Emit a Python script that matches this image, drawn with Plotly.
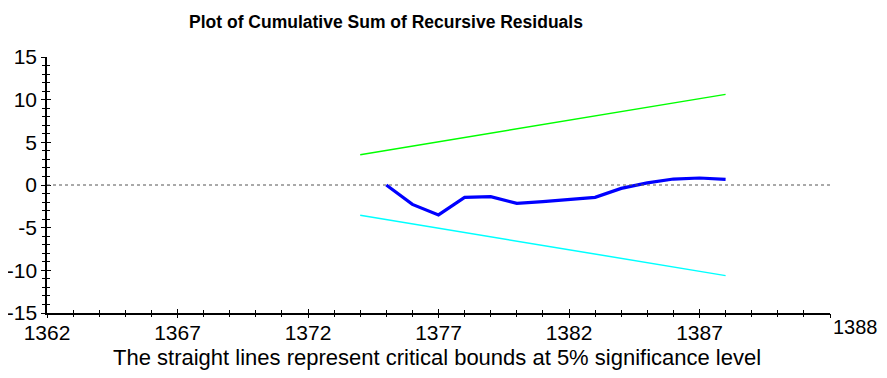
import plotly.graph_objects as go

# ---- data ----
years = [1375, 1376, 1377, 1378, 1379, 1380, 1381, 1382, 1383, 1384, 1385, 1386, 1387, 1388]
cusum = [0.0, -2.27, -3.5, -1.45, -1.37, -2.15, -1.95, -1.7, -1.45, -0.4, 0.25, 0.7, 0.82, 0.67]

bound_years = [1374, 1388]
upper_bound = [3.54, 10.62]
lower_bound = [-3.54, -10.62]

x_tickvals = [1362, 1367, 1372, 1377, 1382, 1387, 1392]
x_ticktext = ["1362", "1367", "1372", "1377", "1382", "1387", ""]
y_tickvals = [-15, -10, -5, 0, 5, 10, 15]
y_ticktext = ["-15", "-10", "-5", "0", "5", "10", "15"]
end_label = "1388"

title_text = "Plot of Cumulative Sum of Recursive Residuals"
caption_text = "The straight lines represent critical bounds at 5% significance level"

FONT = "Liberation Sans, Arial, sans-serif"

# page body has an 8px default margin; compensate so the plot lands where it should
OFF = 8
W, H = 887 - 2 * OFF, 378 - 2 * OFF
# target plot area in window pixels: x 47..830, y 57..313
L_PX, R_PX, T_PX, B_PX = 47, 830, 57, 313

fig = go.Figure()
fig.add_trace(go.Scatter(x=bound_years, y=upper_bound, mode="lines",
                         line=dict(color="#00FF00", width=1.5), hoverinfo="skip"))
fig.add_trace(go.Scatter(x=bound_years, y=lower_bound, mode="lines",
                         line=dict(color="#00FFFF", width=1.5), hoverinfo="skip"))
fig.add_trace(go.Scatter(x=years, y=cusum, mode="lines",
                         line=dict(color="#0000FF", width=3.2), hoverinfo="skip"))
# invisible trace to anchor overlay axes (for ticks crossing the axis lines)
fig.add_trace(go.Scatter(x=years, y=cusum, mode="lines", xaxis="x2", yaxis="y2",
                         line=dict(color="rgba(0,0,0,0)", width=0), hoverinfo="skip"))

fig.add_hline(y=0, line=dict(color="#555555", width=1, dash="dot"))

xcommon = dict(range=[1362, 1392], tickmode="array", tickvals=x_tickvals,
               showgrid=False, zeroline=False, ticklen=4, tickwidth=1, tickcolor="black")
ycommon = dict(range=[-15, 15], tickmode="array", tickvals=y_tickvals,
               showgrid=False, zeroline=False, ticklen=4, tickwidth=1, tickcolor="black")

fig.update_layout(
    width=W, height=H,
    margin=dict(l=L_PX - OFF, r=OFF + W - R_PX, t=T_PX - OFF, b=OFF + H - B_PX,
                autoexpand=False),
    paper_bgcolor="white", plot_bgcolor="white",
    showlegend=False,
    font=dict(family=FONT, color="black"),
    title=dict(text="<b>" + title_text + "</b>", x=(386 - OFF) / W, xanchor="center",
               y=1 - (22 - OFF) / H, yref="container", yanchor="middle",
               font=dict(family=FONT, size=17.5, color="black")),
    xaxis=dict(**xcommon, ticktext=x_ticktext, ticks="inside",
               showline=True, linecolor="black", linewidth=1.5,
               tickfont=dict(family=FONT, size=21, color="black"),
               minor=dict(dtick=1, tick0=1362, ticks="inside", ticklen=3,
                          tickcolor="black", showgrid=False)),
    yaxis=dict(**ycommon, ticktext=y_ticktext, ticks="outside",
               showline=True, linecolor="black", linewidth=1.5,
               tickfont=dict(family=FONT, size=21, color="black"),
               minor=dict(dtick=1, tick0=-15, ticks="outside", ticklen=3,
                          tickcolor="black", showgrid=False)),
    xaxis2=dict(**xcommon, overlaying="x", anchor="y2", ticks="outside",
                showticklabels=False, showline=False,
                minor=dict(dtick=1, tick0=1362, ticks="outside", ticklen=3,
                           tickcolor="black", showgrid=False)),
    yaxis2=dict(**ycommon, overlaying="y", anchor="x2", ticks="inside",
                showticklabels=False, showline=False,
                minor=dict(dtick=1, tick0=-15, ticks="inside", ticklen=3,
                           tickcolor="black", showgrid=False)),
    annotations=[
        dict(text=end_label, xref="paper", yref="paper",
             x=(856 - L_PX) / (R_PX - L_PX),
             y=(B_PX - 327) / (B_PX - T_PX), xanchor="center", yanchor="middle",
             showarrow=False, font=dict(family=FONT, size=20, color="black")),
        dict(text=caption_text, xref="paper", yref="paper",
             x=(437 - L_PX) / (R_PX - L_PX),
             y=(B_PX - 357) / (B_PX - T_PX), xanchor="center", yanchor="middle",
             showarrow=False, font=dict(family=FONT, size=22, color="black")),
    ],
)

fig.write_html("out.html")
